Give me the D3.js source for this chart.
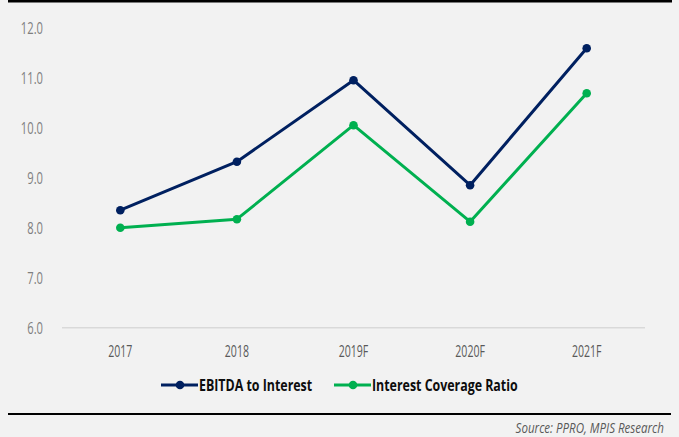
<!DOCTYPE html>
<html>
<head>
<meta charset="utf-8">
<script src="https://cdn.jsdelivr.net/npm/d3@7"></script>
<style>
  html, body { margin: 0; padding: 0; background: #f2f2f2; }
  svg { display: block; }
  text { font-family: "Open Sans", "Noto Sans", sans-serif; }
</style>
</head>
<body>
<svg id="chart" width="679" height="437"></svg>
<script>
// Categories and series
const years = ["2017", "2018", "2019F", "2020F", "2021F"];
const ebitdaToInterest = [8.35, 9.32, 10.95, 8.85, 11.59];
const interestCoverage = [8.0, 8.17, 10.05, 8.12, 10.69];
const yTicks = [6, 7, 8, 9, 10, 11, 12];
const seriesNames = ["EBITDA to Interest", "Interest Coverage Ratio"];
const seriesColors = ["#002060", "#00b050"];

const W = 679, H = 437;
const svg = d3.select("#chart");

svg.append("rect").attr("width", W).attr("height", H).attr("fill", "#f2f2f2");

// Top and bottom rules
svg.append("rect").attr("x", 8).attr("y", 0).attr("width", 664).attr("height", 2.5).attr("fill", "#000");
svg.append("rect").attr("x", 8).attr("y", 413).attr("width", 663).attr("height", 2).attr("fill", "#000");

const x = d3.scaleBand().domain(years).range([62, 645]);
const y = d3.scaleLinear().domain([6, 12]).range([327.7, 27.7]);

// Narrow the text horizontally (condensed look) about its anchor point
function condense(sel, k) {
  sel.attr("transform", `scale(${k},1)`);
}

// Baseline gridline
svg.append("line")
  .attr("x1", 62).attr("x2", 645)
  .attr("y1", y(6)).attr("y2", y(6))
  .attr("stroke", "#d9d9d9").attr("stroke-width", 1.5);

// Y axis labels
const yAxis = d3.axisLeft(y).tickValues(yTicks).tickFormat(d3.format(".1f")).tickSize(0).tickPadding(0);
const yg = svg.append("g").attr("transform", "translate(43,0)").call(yAxis);
yg.select(".domain").remove();
yg.selectAll("text").attr("x", 0).attr("fill", "#7f7f7f").attr("font-size", 16).attr("dy", "0.36em")
  .style("font-family", "'Open Sans', 'Noto Sans', sans-serif").call(condense, 0.70);

// X axis labels
const xAxis = d3.axisBottom(x).tickSize(0).tickPadding(0);
const xg = svg.append("g").attr("transform", "translate(0,351)").call(xAxis);
xg.select(".domain").remove();
xg.selectAll("text").attr("y", 0).attr("fill", "#595959").attr("font-size", 16).attr("dy", "0.36em")
  .style("font-family", "'Open Sans', 'Noto Sans', sans-serif").call(condense, 0.66);

// Lines and markers
const series = [ebitdaToInterest, interestCoverage];
const line = d3.line().x((d, i) => x(years[i]) + x.bandwidth() / 2).y(d => y(d));

series.forEach((vals, s) => {
  svg.append("path")
    .datum(vals)
    .attr("d", line)
    .attr("fill", "none")
    .attr("stroke", seriesColors[s])
    .attr("stroke-width", 3)
    .attr("stroke-linejoin", "round");
  svg.selectAll(null)
    .data(vals)
    .enter().append("circle")
    .attr("cx", (d, i) => x(years[i]) + x.bandwidth() / 2)
    .attr("cy", d => y(d))
    .attr("r", 4.3)
    .attr("fill", seriesColors[s]);
});

// Legend
const legendItems = [
  { x0: 161, name: seriesNames[0], color: seriesColors[0] },
  { x0: 334, name: seriesNames[1], color: seriesColors[1] }
];
const ly = 385;
legendItems.forEach(it => {
  const g = svg.append("g");
  g.append("line").attr("x1", it.x0).attr("x2", it.x0 + 37).attr("y1", ly).attr("y2", ly)
    .attr("stroke", it.color).attr("stroke-width", 3);
  g.append("circle").attr("cx", it.x0 + 19).attr("cy", ly).attr("r", 4.3).attr("fill", it.color);
  g.append("g").attr("transform", `translate(${it.x0 + 38},${ly})`)
    .append("text").attr("dy", "0.36em")
    .attr("font-size", 16).attr("font-weight", "bold").attr("fill", "#0d0d0d")
    .text(it.name)
    .call(condense, 0.775);
});

// Source note
svg.append("g").attr("transform", "translate(664,427.5)")
  .append("text")
  .attr("dy", "0.36em")
  .attr("text-anchor", "end")
  .attr("font-size", 15).attr("font-style", "italic").attr("fill", "#595959")
  .text("Source: PPRO, MPIS Research")
  .call(condense, 0.77);
</script>
</body>
</html>
